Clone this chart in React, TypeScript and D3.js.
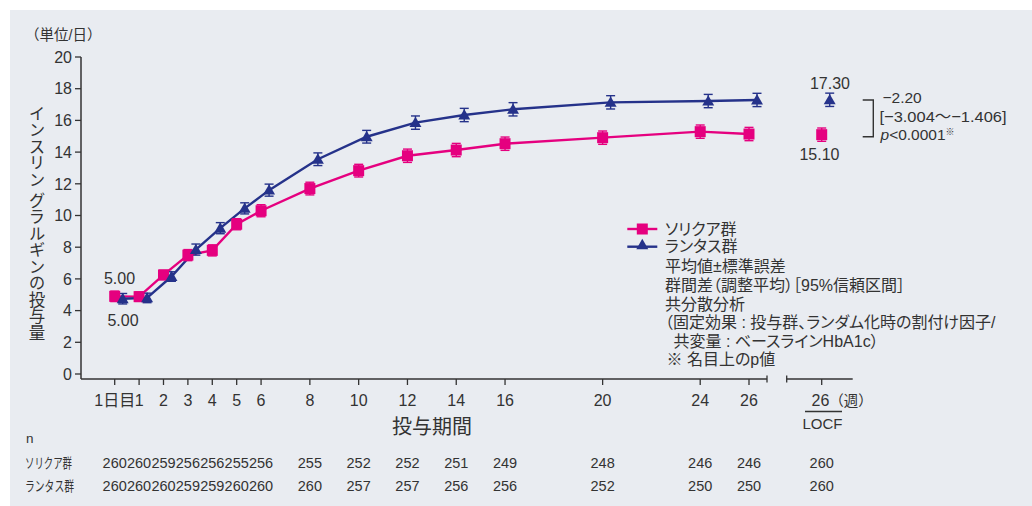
import React from "react";
import * as d3 from "d3";

const weeks = [0, 1, 2, 3, 4, 5, 6, 8, 10, 12, 14, 16, 20, 24, 26];
const weekLabels = ["1日目", "1", "2", "3", "4", "5", "6", "8", "10", "12", "14", "16", "20", "24", "26"];
const soliqua = [4.9, 4.88, 6.25, 7.5, 7.8, 9.45, 10.3, 11.7, 12.83, 13.77, 14.13, 14.53, 14.91, 15.29, 15.14];
const soliquaSE = [0.33, 0.3, 0.3, 0.35, 0.35, 0.35, 0.38, 0.4, 0.4, 0.42, 0.42, 0.42, 0.42, 0.42, 0.42];
const lantus = [4.75, 4.8, 6.15, 7.85, 9.2, 10.45, 11.6, 13.55, 14.97, 15.86, 16.34, 16.7, 17.14, 17.22, 17.29];
const lantusSE = [0.33, 0.3, 0.3, 0.35, 0.35, 0.35, 0.38, 0.4, 0.4, 0.42, 0.42, 0.42, 0.42, 0.42, 0.42];
const locfSoliqua = 15.1;
const locfLantus = 17.3;
const locfSE = 0.42;
const nSoliqua = [260, 260, 259, 256, 256, 255, 256, 255, 252, 252, 251, 249, 248, 246, 246];
const nLantus = [260, 260, 260, 259, 259, 260, 260, 260, 257, 257, 256, 256, 252, 250, 250];
const nLocfSoliqua = 260;
const nLocfLantus = 260;
const yTicks = [0, 2, 4, 6, 8, 10, 12, 14, 16, 18, 20];
const legendNotes = [
  "平均値±標準誤差",
  "群間差（調整平均）［95%信頼区間］",
  "共分散分析",
  "（固定効果 : 投与群、ランダム化時の割付け因子/",
  "共変量 : ベースラインHbA1c）",
  "※ 名目上のp値",
];
const legendNoteX = [665, 665, 665, 665, 673.5, 666.5];

const PINK = "#e5007f";
const BLUE = "#25328a";
const TXT = "#333";
const FONT = "'Liberation Sans', Arial, 'Noto Sans CJK JP', sans-serif";

export default function App() {
  const x = d3.scaleLinear().domain([0, 26]).range([114.7, 749]);
  const y = d3.scaleLinear().domain([0, 20]).range([374, 57]);
  const xLocf = 821.7;
  const off = 8;

  const pinkLine = d3
    .line<number>()
    .x((_, i) => x(weeks[i]))
    .y((d) => y(d))(soliqua) as string;
  const blueLine = d3
    .line<number>()
    .x((_, i) => x(weeks[i]) + off)
    .y((d) => y(d))(lantus) as string;

  const tri = d3.symbol().type(d3.symbolTriangle).size(62)() as string;
  const sq = 11;

  const errBar = (cx: number, v: number, se: number, color: string, key: string) => (
    <g key={key} stroke={color} strokeWidth={1.4}>
      <line x1={cx} x2={cx} y1={y(v + se)} y2={y(v - se)} />
      <line x1={cx - 4.5} x2={cx + 4.5} y1={y(v + se)} y2={y(v + se)} />
      <line x1={cx - 4.5} x2={cx + 4.5} y1={y(v - se)} y2={y(v - se)} />
    </g>
  );

  const axisY = 379;
  const palt = { fontFeatureSettings: '"palt" 1' } as React.CSSProperties;

  return (
    <svg
      width={1032}
      height={506}
      style={{ position: "absolute", left: 0, top: 0, fontFamily: FONT }}
    >
      <rect x={0} y={0} width={1032} height={506} fill="#ffffff" />
      <rect x={10} y={10} width={1022} height={496} fill="#e9ecf1" />

      {/* unit */}
      <text x={25} y={40} fontSize={14.5} fill={TXT}>（単位/日）</text>

      {/* y title */}
      <text
        x={36}
        y={223}
        fontSize={16.5}
        fill={TXT}
        textAnchor="middle"
        style={{ writingMode: "vertical-rl" }}
      >
        インスリン グラルギンの投与量
      </text>

      {/* y axis */}
      <line x1={81} x2={81} y1={y(20)} y2={axisY} stroke={TXT} strokeWidth={1.5} />
      {yTicks.map((t) => (
        <g key={"yt" + t}>
          <line x1={75} x2={81} y1={y(t)} y2={y(t)} stroke={TXT} strokeWidth={1.3} />
          <text x={72} y={y(t)} dy="0.36em" fontSize={16} textAnchor="end" fill={TXT}>
            {t}
          </text>
        </g>
      ))}

      {/* x axis */}
      <line x1={81} x2={767} y1={axisY} y2={axisY} stroke={TXT} strokeWidth={1.5} />
      <line x1={767} x2={767} y1={axisY - 3.5} y2={axisY + 3.5} stroke={TXT} strokeWidth={1.3} />
      {weeks.map((w, i) => (
        <g key={"xt" + w}>
          <line x1={x(w)} x2={x(w)} y1={axisY} y2={axisY + 6} stroke={TXT} strokeWidth={1.3} />
          <text x={x(w)} y={400} dy="0.36em" fontSize={16} textAnchor="middle" fill={TXT}>
            {weekLabels[i]}
          </text>
        </g>
      ))}
      <line x1={786.7} x2={852.7} y1={axisY} y2={axisY} stroke={TXT} strokeWidth={1.5} />
      <line x1={786.7} x2={786.7} y1={axisY - 3.5} y2={axisY + 3.5} stroke={TXT} strokeWidth={1.3} />
      <line x1={xLocf} x2={xLocf} y1={axisY} y2={axisY + 6} stroke={TXT} strokeWidth={1.3} />
      <text x={811.5} y={400} dy="0.36em" fontSize={16} fill={TXT}>
        26<tspan fontSize={14.5}>（週）</tspan>
      </text>
      <line x1={805} x2={842} y1={411.5} y2={411.5} stroke={TXT} strokeWidth={1.5} />
      <text x={822.5} y={423.5} dy="0.36em" fontSize={15} textAnchor="middle" fill={TXT}>
        LOCF
      </text>

      <text x={432} y={427} dy="0.36em" fontSize={20} textAnchor="middle" fill={TXT}>
        投与期間
      </text>

      {/* lines */}
      <path d={pinkLine} fill="none" stroke={PINK} strokeWidth={2.4} />
      <path d={blueLine} fill="none" stroke={BLUE} strokeWidth={2.4} />

      {/* error bars and markers */}
      {soliqua.map((v, i) => errBar(x(weeks[i]), v, soliquaSE[i], PINK, "pe" + i))}
      {lantus.map((v, i) => errBar(x(weeks[i]) + off, v, lantusSE[i], BLUE, "be" + i))}
      {soliqua.map((v, i) => (
        <rect key={"ps" + i} x={x(weeks[i]) - sq / 2} y={y(v) - sq / 2} width={sq} height={sq} fill={PINK} />
      ))}
      {lantus.map((v, i) => (
        <path key={"bt" + i} d={tri} transform={`translate(${x(weeks[i]) + off},${y(v) + 1})`} fill={BLUE} />
      ))}

      {/* LOCF points */}
      {errBar(xLocf, locfSoliqua, locfSE, PINK, "lp")}
      {errBar(xLocf + off, locfLantus, locfSE, BLUE, "lb")}
      <rect x={xLocf - sq / 2} y={y(locfSoliqua) - sq / 2} width={sq} height={sq} fill={PINK} />
      <path d={tri} transform={`translate(${xLocf + off},${y(locfLantus) + 1})`} fill={BLUE} />

      {/* value labels */}
      <text x={119.5} y={278} dy="0.36em" fontSize={16} textAnchor="middle" fill={TXT}>5.00</text>
      <text x={123} y={320} dy="0.36em" fontSize={16} textAnchor="middle" fill={TXT}>5.00</text>
      <text x={830} y={83.5} dy="0.36em" fontSize={16} textAnchor="middle" fill={TXT}>17.30</text>
      <text x={819.5} y={154} dy="0.36em" fontSize={16} textAnchor="middle" fill={TXT}>15.10</text>

      {/* bracket */}
      <path d="M862.7,100 H873.3 V136.7 H862.7" fill="none" stroke={TXT} strokeWidth={1.4} />
      <text x={882.5} y={97.5} dy="0.36em" fontSize={15.5} fill={TXT}>−2.20</text>
      <text x={879.5} y={116} dy="0.36em" fontSize={15.5} fill={TXT} textLength={127} lengthAdjust="spacingAndGlyphs">
        [−3.004〜−1.406]
      </text>
      <text x={880.5} y={134.5} dy="0.36em" fontSize={15.5} fill={TXT}>
        <tspan fontStyle="italic">p</tspan>&lt;0.0001
        <tspan fontSize={9} dy="-5">※</tspan>
      </text>

      {/* legend */}
      <line x1={627.3} x2={657.3} y1={229} y2={229} stroke={PINK} strokeWidth={2.4} />
      <rect x={642.3 - 5.5} y={229 - 5.5} width={11} height={11} fill={PINK} />
      <text x={665} y={229} dy="0.36em" fontSize={16} fill={TXT} style={palt}>
        ソリクア群
      </text>
      <line x1={627.3} x2={657.3} y1={246.7} y2={246.7} stroke={BLUE} strokeWidth={2.4} />
      <path d={tri} transform={`translate(642.3,${246.7 - 1})`} fill={BLUE} />
      <text x={665} y={246.7} dy="0.36em" fontSize={16} fill={TXT} style={palt}>
        ランタス群
      </text>
      {legendNotes.map((t, i) => (
        <text
          key={"ln" + i}
          x={legendNoteX[i]}
          y={266.7 + i * 18.6}
          dy="0.36em"
          fontSize={16}
          fill={TXT}
          style={palt}
        >
          {t}
        </text>
      ))}

      {/* n table */}
      <text x={26} y={438} dy="0.36em" fontSize={13.5} fill={TXT}>n</text>
      <text x={25} y={463} dy="0.36em" fontSize={14} fill={TXT} textLength={47} lengthAdjust="spacingAndGlyphs">
        ソリクア群
      </text>
      <text x={25} y={485.5} dy="0.36em" fontSize={14} fill={TXT} textLength={49} lengthAdjust="spacingAndGlyphs">
        ランタス群
      </text>
      {nSoliqua.map((n, i) => (
        <text key={"ns" + i} x={x(weeks[i])} y={463} dy="0.36em" fontSize={14.5} textAnchor="middle" fill={TXT}>
          {n}
        </text>
      ))}
      {nLantus.map((n, i) => (
        <text key={"nl" + i} x={x(weeks[i])} y={485.5} dy="0.36em" fontSize={14.5} textAnchor="middle" fill={TXT}>
          {n}
        </text>
      ))}
      <text x={xLocf} y={463} dy="0.36em" fontSize={14.5} textAnchor="middle" fill={TXT}>{nLocfSoliqua}</text>
      <text x={xLocf} y={485.5} dy="0.36em" fontSize={14.5} textAnchor="middle" fill={TXT}>{nLocfLantus}</text>
    </svg>
  );
}
